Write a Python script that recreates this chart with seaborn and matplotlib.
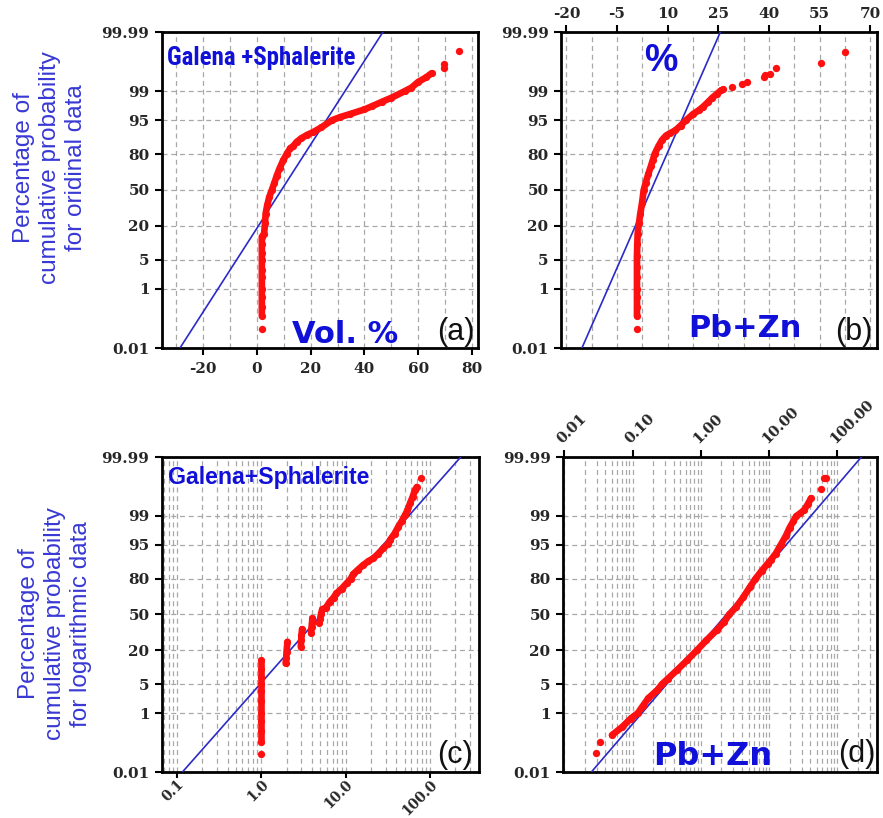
import math
from statistics import NormalDist
import numpy as np
import pandas as pd
import matplotlib
matplotlib.use("Agg")
import matplotlib.pyplot as plt
from matplotlib import font_manager as fm
from matplotlib.ticker import FixedLocator, LogLocator, NullLocator, MultipleLocator
import seaborn as sns

# ---------------- data ----------------
y_ticks = [0.01, 1, 5, 20, 50, 80, 95, 99, 99.99]
y_labels = ["0.01", "1", "5", "20", "50", "80", "95", "99", "99.99"]
fit_pct = [0.01, 99.99]

# (a) ordinal data, Galena + Sphalerite (Vol. %)
a_val = [1.8, 1.8, 1.8, 1.8, 1.8, 1.8, 1.8, 1.8, 1.8, 1.8, 2.6, 3.0, 3.2, 3.8, 4.5, 5.5,
         6.5, 7.3, 8.5, 9.8, 11.0, 12.3, 13.5, 14.8, 16.5, 18.5, 21.0, 24.0, 28.0, 31.0,
         34.6, 40.0, 43.0, 46.5, 50.0, 55.0, 57.5, 60.0, 63.0, 65.0]
a_pct = [0.15, 0.3, 0.6, 1, 2, 3, 5, 7, 10, 13.6, 15, 22, 29, 36, 43, 50,
         57, 63, 70, 76, 80, 83.6, 85, 87.2, 88.8, 90.2, 91.4, 93, 95, 95.7,
         96.3, 97.1, 97.6, 98.1, 98.5, 99.0, 99.2, 99.45, 99.6, 99.7]
a_out_val = [1.8, 69.8, 69.8, 75.3]
a_out_pct = [0.054, 99.79, 99.85, 99.945]
a_fit_val = [-28.7, 46.9]
a_xticks = [-20, 0, 20, 40, 60, 80]

# (b) ordinal data, Pb+Zn (%)
b_val = [0.9, 0.9, 0.9, 0.9, 0.9, 0.9, 0.9, 1.0, 1.1, 1.5, 1.9, 2.4, 2.9, 3.5, 4.3, 5.0,
         5.6, 6.1, 7.3, 8.3, 9.5, 10.8, 12.3, 13.8, 15.5, 17.5, 19.3, 20.5, 22.0, 23.2,
         24.5, 25.8, 26.5]
b_pct = [0.15, 0.3, 0.6, 1, 2, 3.5, 6, 10, 15, 22, 29, 38, 50, 57, 65, 71,
         76, 80, 85, 88, 90, 91, 92, 93.5, 95, 96.3, 97, 97.5, 98.1, 98.5,
         98.8, 99.05, 99.1]
b_out_val = [0.9, 29.0, 32.0, 33.5, 38.4, 38.9, 40.4, 42.1, 55.3, 62.6]
b_out_pct = [0.054, 99.24, 99.39, 99.45, 99.61, 99.65, 99.69, 99.79, 99.86, 99.942]
b_fit_val = [-15.4, 25.6]
b_xticks = [-20, -5, 10, 25, 40, 55, 70]

# (c) logarithmic data, Galena + Sphalerite
c_val = [1.0, 1.0, 1.0, 1.0, 1.0, 1.0, 1.0, 1.0, 1.0, 1.0,
         1.95, 1.98, 2.0, 2.05,
         2.95, 2.98, 3.0, 3.05,
         3.9, 3.95, 4.0, 4.05,
         4.9, 5.0, 5.1, 5.3, 5.8, 6.5, 7.2, 7.8, 9.0, 10.3, 11.5, 12.3, 14.0, 16.2, 18.5,
         21.3, 24.5, 28.0, 32.0, 33.6, 38.0, 42.2, 46.0, 50.7, 54.0, 58.0, 62.0, 66.6, 69.7]
c_pct = [0.13, 0.3, 0.6, 1, 2, 3.5, 5, 7, 10, 14.1,
         12.4, 15, 19, 26,
         22.3, 27, 31, 36.5,
         33, 38, 42, 46.5,
         42, 46, 50, 55, 56, 61.9, 65.5, 69.2, 73, 77, 80, 83, 85.5, 87.9, 89.5,
         90.8, 92.5, 94.1, 95.3, 96.1, 97.2, 98.1, 98.6, 99.07, 99.3, 99.57, 99.72, 99.84, 99.87]
c_seg = [1, 1, 1, 1, 1, 1, 1, 1, 1, 1,
         2, 2, 2, 2,
         3, 3, 3, 3,
         4, 4, 4, 4,
         5, 5, 5, 5, 5, 5, 5, 5, 5, 5, 5, 5, 5, 5, 5,
         5, 5, 5, 5, 5, 5, 5, 5, 5, 5, 5, 5, 5, 5]
c_out_val = [1.0, 77.8]
c_out_pct = [0.051, 99.936]
c_fit_val = [0.117, 231.0]
c_xticks = [0.1, 1, 10, 100]
c_xlabels = ["0.1", "1.0", "10.0", "100.0"]

# (d) logarithmic data, Pb+Zn
d_val = [0.05, 0.071, 0.094, 0.12, 0.14, 0.17, 0.23, 0.27, 0.33, 0.45, 0.63, 0.88, 1.2,
         1.7, 2.2, 2.6, 3.3, 4.2, 5.2, 6.3, 7.8, 9.5, 10.5, 12.5, 14.8, 17.5, 20.0, 22.5,
         25.0, 28.5, 32.7, 37.0, 41.0]
d_pct = [0.22, 0.40, 0.70, 1.0, 1.5, 2.4, 3.7, 5.0, 6.5, 9.5, 14, 20, 27,
         35.5, 43, 50, 57, 66, 74, 80, 85, 88.5, 90, 92.5, 95, 96.8, 98.0, 98.6,
         99.0, 99.15, 99.33, 99.55, 99.7]
d_out_val = [0.0289, 0.0334, 57.5, 64.5, 67.0]
d_out_pct = [0.054, 0.131, 99.85, 99.936, 99.936]
d_fit_val = [0.025, 224.0]
d_xticks = [0.01, 0.1, 1, 10, 100]
d_xlabels = ["0.01", "0.10", "1.00", "10.00", "100.00"]

# ---------------- style ----------------
sns.set_theme(style="white")
plt.rcParams["font.family"] = ["DejaVu Serif", "DejaVu Sans"]
plt.rcParams["font.weight"] = "bold"

RED = "#ff1010"
FITBLUE = "#2a2ac8"
TXTBLUE = "#1010d8"
LABBLUE = "#3838d4"
GRID = "#a8a8a8"

_names = {f.name for f in fm.fontManager.ttflist}
narrow = None
for cand in ["Liberation Sans Narrow", "Arial Narrow", "Roboto Condensed",
             "Archivo Narrow", "DejaVu Sans Condensed"]:
    if cand in _names:
        narrow = cand
        break

_nd = NormalDist()


def probit(p):
    p = np.asarray(p, dtype=float)
    q = np.clip(p / 100.0, 1e-10, 1 - 1e-10)
    flat = [(_nd.inv_cdf(v) if np.isfinite(v) else np.nan) for v in q.ravel()]
    return np.array(flat, dtype=float).reshape(q.shape)


def iprobit(z):
    z = np.asarray(z, dtype=float)
    flat = [(100.0 * _nd.cdf(v) if np.isfinite(v) else np.nan) for v in z.ravel()]
    return np.array(flat, dtype=float).reshape(z.shape)


W, H = 883, 818
fig = plt.figure(figsize=(W / 100, H / 100), dpi=100)


def add_ax(left, top, right, bottom):
    return fig.add_axes([left / W, 1 - bottom / H, (right - left) / W, (bottom - top) / H])


axA = add_ax(162, 32, 478, 348)
axB = add_ax(561, 32, 877, 348)
axC = add_ax(162, 457, 479, 772)
axD = add_ax(563, 457, 877, 772)


def draw(ax, val, pct, seg, oval, opct, fval, logx):
    if logx:
        ax.set_xscale("log")
    ax.set_yscale("function", functions=(probit, iprobit))
    sns.lineplot(x=fval, y=fit_pct, color=FITBLUE, lw=1.2, sort=False,
                 estimator=None, ax=ax, zorder=3)
    df = pd.DataFrame({"val": val, "pct": pct, "seg": seg})
    sns.lineplot(data=df, x="val", y="pct", units="seg", estimator=None, sort=False,
                 color=RED, lw=4.8, marker="o", markersize=5.2, markeredgewidth=0,
                 solid_capstyle="round", legend=False, ax=ax, zorder=4)
    sns.scatterplot(x=oval, y=opct, color=RED, s=28, linewidth=0, ax=ax, zorder=5,
                    legend=False)
    ax.set_xlabel("")
    ax.set_ylabel("")
    ax.set_ylim(0.01, 99.99)
    ax.yaxis.set_major_locator(FixedLocator(y_ticks))
    ax.yaxis.set_minor_locator(NullLocator())
    ax.set_yticks(y_ticks, y_labels)
    ax.set_axisbelow(True)
    ax.grid(True, axis="y", which="major", color=GRID, lw=0.9, ls=(0, (4, 3)))
    ax.grid(True, axis="x", which="both", color=GRID, lw=0.9, ls=(0, (4, 3)))
    for sp in ax.spines.values():
        sp.set_visible(True)
        sp.set_color("black")
        sp.set_linewidth(2.0)
    ax.tick_params(axis="both", which="major", length=5, width=1.5, color="black",
                   labelsize=11, labelcolor="#262626", pad=4, left=True)
    ax.tick_params(axis="x", which="minor", length=0)
    ax.set_facecolor("white")


draw(axA, a_val, a_pct, [1 for _ in a_val], a_out_val, a_out_pct, a_fit_val, False)
draw(axB, b_val, b_pct, [1 for _ in b_val], b_out_val, b_out_pct, b_fit_val, False)
draw(axC, c_val, c_pct, c_seg, c_out_val, c_out_pct, c_fit_val, True)
draw(axD, d_val, d_pct, [1 for _ in d_val], d_out_val, d_out_pct, d_fit_val, True)

# x axes
axA.set_xlim(-35.4, 82.3)
axA.set_xticks(a_xticks, [str(v) for v in a_xticks])
axA.xaxis.set_minor_locator(MultipleLocator(10))
axA.tick_params(axis="x", which="major", bottom=True, pad=5)

axB.set_xlim(-21.6, 72.0)
axB.xaxis.tick_top()
axB.set_xticks(b_xticks, [str(v) for v in b_xticks])
axB.xaxis.set_minor_locator(FixedLocator(np.arange(-20, 72, 7.5)))
axB.tick_params(axis="x", which="major", top=True, bottom=False, pad=3)

axC.set_xlim(0.067, 380)
axC.xaxis.set_minor_locator(LogLocator(base=10, subs=np.arange(2, 10)))
axC.set_xticks(c_xticks, c_xlabels, rotation=45, ha="right", va="top",
               rotation_mode="anchor")
axC.tick_params(axis="x", which="major", bottom=True, length=4, pad=0, labelsize=10)
axC.tick_params(axis="x", which="minor", length=0)

axD.set_xlim(0.0096, 379)
axD.xaxis.tick_top()
axD.xaxis.set_minor_locator(LogLocator(base=10, subs=np.arange(2, 10)))
axD.set_xticks(d_xticks, d_xlabels, rotation=45, ha="left", va="bottom",
               rotation_mode="anchor")
axD.tick_params(axis="x", which="major", top=True, bottom=False, pad=3, labelsize=10.5)
axD.tick_params(axis="x", which="minor", length=0)

# ---------------- texts ----------------
if narrow:
    axA.text(0.016, 0.896, "Galena +Sphalerite", transform=axA.transAxes, ha="left",
             va="baseline", fontsize=18, fontweight="bold", family=narrow, color=TXTBLUE)
else:
    axA.text(0.016, 0.896, "Galena +Sphalerite", transform=axA.transAxes, ha="left",
             va="baseline", fontsize=15, fontweight="bold", family="Liberation Sans",
             color=TXTBLUE)
axA.text(0.411, 0.017, "Vol. %", transform=axA.transAxes, ha="left", va="baseline",
         fontsize=22, fontweight="bold", family="DejaVu Sans", color=TXTBLUE)
axA.text(0.99, 0.025, "(a)", transform=axA.transAxes, ha="right", va="baseline",
         fontsize=22, fontweight="normal", family="Liberation Sans", color="#111111")

axB.text(0.316, 0.877, "%", transform=axB.transAxes, ha="center", va="baseline",
         fontsize=27, fontweight="bold", family="Liberation Sans", color=TXTBLUE)
axB.text(0.402, 0.036, "Pb+Zn", transform=axB.transAxes, ha="left", va="baseline",
         fontsize=22, fontweight="bold", family="DejaVu Sans", color=TXTBLUE)
axB.text(0.987, 0.025, "(b)", transform=axB.transAxes, ha="right", va="baseline",
         fontsize=22, fontweight="normal", family="Liberation Sans", color="#111111")

axC.text(0.019, 0.913, "Galena+Sphalerite", transform=axC.transAxes, ha="left",
         va="baseline", fontsize=16.7, fontweight="bold", family="Liberation Sans",
         color=TXTBLUE)
axC.text(0.981, 0.028, "(c)", transform=axC.transAxes, ha="right", va="baseline",
         fontsize=22, fontweight="normal", family="Liberation Sans", color="#111111")

axD.text(0.287, 0.022, "Pb+Zn", transform=axD.transAxes, ha="left", va="baseline",
         fontsize=23, fontweight="bold", family="DejaVu Sans", color=TXTBLUE)
axD.text(0.994, 0.032, "(d)", transform=axD.transAxes, ha="right", va="baseline",
         fontsize=22, fontweight="normal", family="Liberation Sans", color="#111111")

fig.text(50 / W, 1 - 168 / H, "Percentage of\ncumulative probability\nfor oridinal data",
         rotation=90, ha="center", va="center", multialignment="center", linespacing=1.25,
         fontsize=17.5, fontweight="normal", family="Liberation Sans", color=LABBLUE)
fig.text(55 / W, 1 - 624 / H, "Percentage of\ncumulative probability\nfor logarithmic data",
         rotation=90, ha="center", va="center", multialignment="center", linespacing=1.25,
         fontsize=17.5, fontweight="normal", family="Liberation Sans", color=LABBLUE)

fig.savefig("out.png", dpi=100)
